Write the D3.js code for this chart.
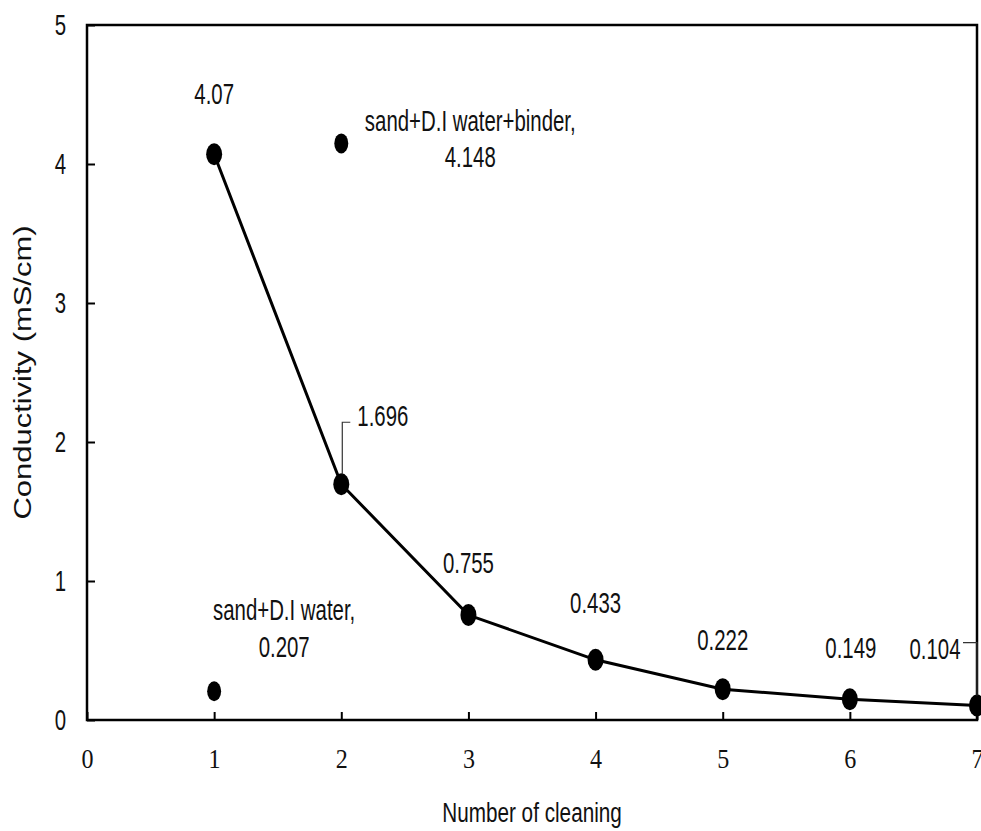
<!DOCTYPE html>
<html>
<head>
<meta charset="utf-8">
<script src="https://cdn.jsdelivr.net/npm/d3@7"></script>
<style>
  html, body { margin: 0; padding: 0; background: #fff; }
  svg { display: block; }
</style>
</head>
<body>
<svg id="chart" width="981" height="831"></svg>
<script>
// ---- data ----
const cleaningNumbers = [1, 2, 3, 4, 5, 6, 7];
const conductivity = [4.07, 1.696, 0.755, 0.433, 0.222, 0.149, 0.104];
const valueLabels = ["4.07", "1.696", "0.755", "0.433", "0.222", "0.149", "0.104"];
const refPoints = [
  { x: 1, y: 0.207, lines: ["sand+D.I water,", "0.207"] },
  { x: 2, y: 4.148, lines: ["sand+D.I water+binder,", "4.148"] }
];
const xTicks = [0, 1, 2, 3, 4, 5, 6, 7];
const yTicks = [0, 1, 2, 3, 4, 5];
const xTitle = "Number of cleaning";
const yTitle = "Conductivity (mS/cm)";

// ---- layout ----
const L = 87, R = 977, T = 25, B = 720;
const sans = "'Liberation Sans', Arial, sans-serif";
const serif = "'Liberation Serif', 'Times New Roman', serif";
const svg = d3.select("#chart");
const x = d3.scaleLinear().domain([0, 7]).range([L, R]);
const y = d3.scaleLinear().domain([0, 5]).range([B, T]);

// stretched text helper
function stext(px, py, txt, size, sx, anchor) {
  return svg.append("text")
    .attr("transform", `translate(${px},${py}) scale(${sx},1)`)
    .attr("text-anchor", anchor || "middle")
    .attr("font-family", sans)
    .attr("font-size", size)
    .attr("fill", "#111")
    .text(txt);
}

// frame
svg.append("rect")
  .attr("x", L).attr("y", T).attr("width", R - L).attr("height", B - T)
  .attr("fill", "none").attr("stroke", "#000").attr("stroke-width", 2.5);

// x axis
const gx = svg.append("g").attr("transform", `translate(0,${B})`)
  .call(d3.axisBottom(x).tickValues(xTicks).tickSize(-8).tickPadding(28).tickFormat(d3.format("d")));
gx.select(".domain").remove();
gx.selectAll(".tick line").attr("stroke", "#000").attr("stroke-width", 2);
gx.selectAll(".tick text")
  .attr("font-family", serif).attr("font-size", 28).attr("fill", "#111")
  .attr("transform", "scale(0.86,1)");

// y axis
const gy = svg.append("g").attr("transform", `translate(${L},0)`)
  .call(d3.axisLeft(y).tickValues(yTicks).tickSize(-8).tickPadding(21).tickFormat(d3.format("d")));
gy.select(".domain").remove();
gy.selectAll(".tick line").attr("stroke", "#000").attr("stroke-width", 2);
gy.selectAll(".tick text")
  .attr("x", 0)
  .attr("font-family", sans).attr("font-size", 30).attr("fill", "#111")
  .attr("transform", "translate(-21,0) scale(0.68,1)");

// axis titles
stext((L + R) / 2, 822, xTitle, 28, 0.74, "middle");
svg.append("text")
  .attr("transform", `translate(31,${(T + B) / 2}) rotate(-90) scale(1.29,1)`)
  .attr("text-anchor", "middle")
  .attr("font-family", sans).attr("font-size", 24).attr("fill", "#111")
  .text(yTitle);

// main line
const data = cleaningNumbers.map((c, i) => ({ x: c, y: conductivity[i], label: valueLabels[i] }));
svg.append("path")
  .datum(data)
  .attr("d", d3.line().x(d => x(d.x)).y(d => y(d.y)))
  .attr("fill", "none").attr("stroke", "#000").attr("stroke-width", 3);

svg.selectAll(".dot").data(data).enter().append("ellipse")
  .attr("cx", d => x(d.x)).attr("cy", d => y(d.y))
  .attr("rx", 8).attr("ry", 11).attr("fill", "#000");

// reference points
svg.selectAll(".ref").data(refPoints).enter().append("ellipse")
  .attr("cx", d => x(d.x)).attr("cy", d => y(d.y))
  .attr("rx", 7).attr("ry", 10).attr("fill", "#000");

// value labels (offsets in px relative to point)
const labelOffsets = [
  [0, -50], [34, -58], [0, -42], [0, -47], [0, -39], [1, -41], [-42, -47]
];
data.forEach((d, i) => {
  const [dx, dy] = labelOffsets[i];
  const anchor = i === 1 ? "start" : "middle";
  stext(x(d.x) + dx + (i === 1 ? -18 : 0), y(d.y) + dy, d.label, 30, 0.68, anchor);
});

// leader lines
const p2 = data[1], p7 = data[6];
svg.append("path")
  .attr("d", `M${x(p2.x) + 1},${y(p2.y) - 10} V${y(p2.y) - 62} H${x(p2.x) + 9}`)
  .attr("fill", "none").attr("stroke", "#333").attr("stroke-width", 1.2);
svg.append("path")
  .attr("d", `M${x(p7.x) - 14},${y(p7.y) - 63} H${x(p7.x)} V${y(p7.y) - 10}`)
  .attr("fill", "none").attr("stroke", "#333").attr("stroke-width", 1.2);

// reference labels
const refLabelPos = [
  { dx: 70, dy1: -71, dy2: -34 },
  { dx: 129, dy1: -12, dy2: 24 }
];
refPoints.forEach((p, i) => {
  const o = refLabelPos[i];
  stext(x(p.x) + o.dx, y(p.y) + o.dy1, p.lines[0], 30, 0.68, "middle");
  stext(x(p.x) + o.dx, y(p.y) + o.dy2, p.lines[1], 30, 0.68, "middle");
});
</script>
</body>
</html>
